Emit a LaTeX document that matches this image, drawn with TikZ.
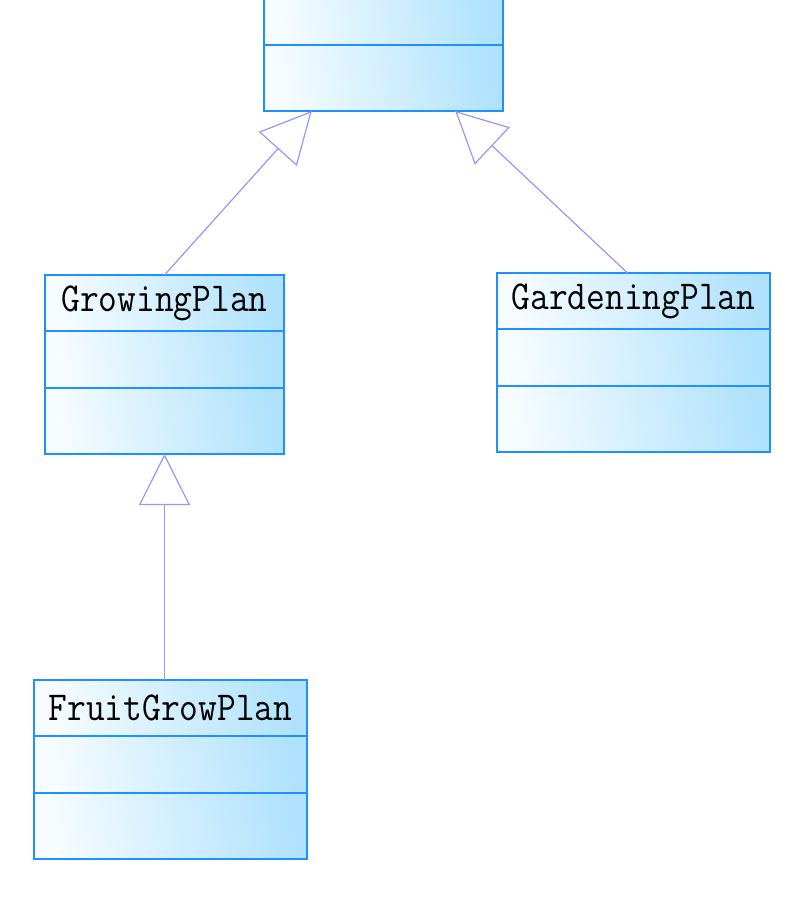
\documentclass[tikz,border=0pt]{standalone}
\usepackage{fontspec}
\usepackage{graphicx}
\usetikzlibrary{positioning,calc,arrows.meta}
\definecolor{umlborder}{RGB}{30,144,255}
\definecolor{umlfill}{RGB}{176,226,253}
\definecolor{umlline}{RGB}{150,150,255}
\newcommand{\cname}[1]{\scalebox{1}[1.13]{#1}}
\tikzset{every picture/.style={line width=0.75pt}}
\tikzset{
  umlpart/.style={draw=umlborder, line width=2pt, left color=umlfill!10, right color=umlfill, shading angle=100, inner sep=0pt, outer sep=0pt},
  umlname/.style={umlpart, minimum width=#1, minimum height=56pt, font=\ttfamily\fontsize{36.4}{40}\selectfont},
  umlattr/.style={umlpart, minimum width=#1, minimum height=57pt},
  umlops/.style={umlpart, minimum width=#1, minimum height=66pt},
  generalize/.style={draw=umlline, line width=1.2pt, -{Triangle[open, length=51pt, width=51pt, fill=white]}}
}

\begin{document}
\begin{tikzpicture}[x=1pt,y=1pt,yscale=-1,xscale=1]
\clip (0,0) rectangle (798,903);
\fill[white] (0,0) rectangle (798,903);

% base class, cut off at the top
\node[umlops=239pt, anchor=south west] (base-ops) at (264,111) {};
\node[umlattr=239pt, above=0pt of base-ops] (base-attr) {};

% GrowingPlan
\node[umlname=239pt, anchor=north west] (grow-name) at (45,275) {\cname{GrowingPlan}};
\node[umlattr=239pt, below=0pt of grow-name] (grow-attr) {};
\node[umlops=239pt, below=0pt of grow-attr] (grow-ops) {};

% GardeningPlan
\node[umlname=273pt, anchor=north west] (gard-name) at (497,273) {\cname{GardeningPlan}};
\node[umlattr=273pt, below=0pt of gard-name] (gard-attr) {};
\node[umlops=273pt, below=0pt of gard-attr] (gard-ops) {};

% FruitGrowPlan
\node[umlname=273pt, anchor=north west] (fruit-name) at (34,680) {\cname{FruitGrowPlan}};
\node[umlattr=273pt, below=0pt of fruit-name] (fruit-attr) {};
\node[umlops=273pt, below=0pt of fruit-attr] (fruit-ops) {};

% generalization arrows
\coordinate (base-l) at ($(base-ops.south west)!0.2!(base-ops.south east)$);
\coordinate (base-r) at ($(base-ops.south west)!0.8!(base-ops.south east)$);
\coordinate (gard-top) at ($(gard-name.north)+(-6,0)$);
\draw[generalize] (grow-name.north) -- (base-l);
\draw[generalize] (gard-top) -- (base-r);
\draw[generalize] (fruit-name.north -| grow-ops.south) -- (grow-ops.south);
\end{tikzpicture}
\end{document}
